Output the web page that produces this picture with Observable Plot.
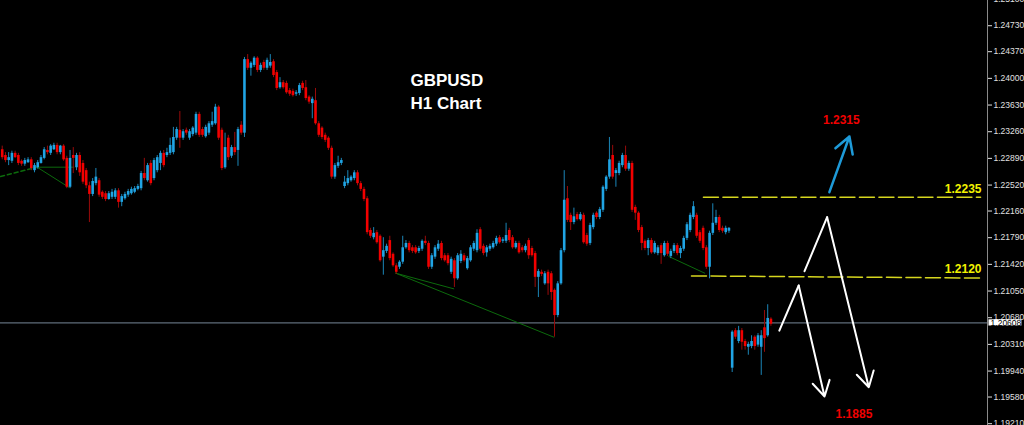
<!DOCTYPE html>
<html><head><meta charset="utf-8">
<style>html,body{margin:0;padding:0;background:#000;overflow:hidden}#chart svg{display:block}</style>
<script src="https://cdn.jsdelivr.net/npm/d3@7"></script>
<script src="https://cdn.jsdelivr.net/npm/@observablehq/plot@0.6"></script>
</head><body><div id="chart"></div>
<script>
// GBPUSD H1 candles (index 0..238), prices
const opens = [
1.2301,1.2293,1.2286,1.2285,1.2296,1.2293,1.2285,1.2281,1.2283,1.2287,
1.2272,1.2276,1.2282,1.2289,1.2300,1.2296,1.2301,1.2307,1.2297,1.2306,
1.2289,1.2249,1.2293,1.2276,1.2293,1.2282,1.2272,1.2251,1.2239,1.2254,
1.2258,1.2242,1.2240,1.2232,1.2235,1.2235,1.2244,1.2228,1.2233,1.2238,
1.2240,1.2242,1.2246,1.2247,1.2268,1.2258,1.2282,1.2261,1.2272,1.2282,
1.2296,1.2293,1.2296,1.2297,1.2317,1.2328,1.2317,1.2328,1.2317,1.2322,
1.2324,1.2350,1.2329,1.2319,1.2324,1.2335,1.2337,1.2360,1.2328,1.2276,
1.2317,1.2292,1.2304,1.2300,1.2335,1.2324,1.2426,1.2414,1.2418,1.2428,
1.2411,1.2422,1.2414,1.2417,1.2423,1.2408,1.2387,1.2394,1.2393,1.2383,
1.2382,1.2378,1.2379,1.2393,1.2387,1.2374,1.2365,1.2369,1.2337,1.2331,
1.2321,1.2317,1.2303,1.2263,1.2278,1.2282,1.2250,1.2254,1.2258,1.2261,
1.2269,1.2254,1.2246,1.2233,1.2189,1.2179,1.2186,1.2181,1.2152,1.2160,
1.2175,1.2156,1.2140,1.2138,1.2145,1.2165,1.2171,1.2165,1.2165,1.2160,
1.2163,1.2174,1.2171,1.2138,1.2152,1.2163,1.2171,1.2154,1.2154,1.2131,
1.2147,1.2122,1.2146,1.2154,1.2136,1.2147,1.2163,1.2161,1.2190,1.2167,
1.2158,1.2163,1.2165,1.2170,1.2179,1.2174,1.2174,1.2189,1.2179,1.2165,
1.2171,1.2165,1.2161,1.2175,1.2164,1.2157,1.2124,1.2131,1.2115,1.2131,
1.2129,1.2106,1.2071,1.2115,1.2161,1.2233,1.2210,1.2200,1.2211,1.2204,
1.2210,1.2182,1.2171,1.2193,1.2213,1.2207,1.2217,1.2246,1.2263,1.2293,
1.2268,1.2268,1.2279,1.2293,1.2274,1.2282,1.2221,1.2213,1.2193,1.2174,
1.2164,1.2175,1.2158,1.2157,1.2168,1.2154,1.2171,1.2153,1.2160,1.2168,
1.2157,1.2163,1.2178,1.2189,1.2207,1.2210,1.2186,1.2192,1.2165,1.2138,
1.2185,1.2199,1.2207,1.2192,1.2186,1.2188,1.1998,1.2050,1.2035,1.2050,
1.2035,1.2027,1.2028,1.2041,1.2030,1.2027,1.2054,1.2043,1.2066];
const highs = [
1.2306,1.2297,1.2297,1.2299,1.2299,1.2296,1.2287,1.2289,1.2290,1.2290,
1.2282,1.2286,1.2293,1.2304,1.2306,1.2308,1.2310,1.2310,1.2307,1.2308,
1.2292,1.2300,1.2304,1.2296,1.2297,1.2286,1.2275,1.2256,1.2261,1.2275,
1.2261,1.2244,1.2243,1.2243,1.2246,1.2247,1.2247,1.2239,1.2242,1.2246,
1.2249,1.2250,1.2253,1.2271,1.2289,1.2282,1.2286,1.2289,1.2293,1.2299,
1.2300,1.2303,1.2317,1.2332,1.2332,1.2354,1.2329,1.2331,1.2329,1.2333,
1.2353,1.2353,1.2332,1.2335,1.2340,1.2353,1.2364,1.2362,1.2331,1.2324,
1.2321,1.2307,1.2325,1.2332,1.2340,1.2429,1.2433,1.2423,1.2430,1.2430,
1.2421,1.2425,1.2428,1.2433,1.2426,1.2411,1.2401,1.2397,1.2396,1.2386,
1.2385,1.2383,1.2393,1.2396,1.2397,1.2376,1.2374,1.2386,1.2340,1.2333,
1.2324,1.2319,1.2306,1.2282,1.2292,1.2289,1.2264,1.2272,1.2265,1.2272,
1.2272,1.2257,1.2249,1.2236,1.2192,1.2193,1.2189,1.2183,1.2179,1.2170,
1.2181,1.2158,1.2143,1.2147,1.2181,1.2175,1.2174,1.2168,1.2168,1.2167,
1.2176,1.2181,1.2174,1.2157,1.2168,1.2175,1.2174,1.2157,1.2157,1.2152,
1.2150,1.2157,1.2161,1.2157,1.2153,1.2168,1.2174,1.2190,1.2193,1.2170,
1.2168,1.2170,1.2174,1.2181,1.2182,1.2179,1.2199,1.2192,1.2182,1.2174,
1.2174,1.2168,1.2170,1.2178,1.2167,1.2160,1.2135,1.2134,1.2132,1.2134,
1.2132,1.2108,1.2118,1.2164,1.2272,1.2250,1.2213,1.2220,1.2214,1.2214,
1.2213,1.2185,1.2199,1.2213,1.2215,1.2221,1.2251,1.2265,1.2318,1.2307,
1.2275,1.2285,1.2296,1.2306,1.2285,1.2285,1.2224,1.2215,1.2196,1.2176,
1.2178,1.2178,1.2174,1.2168,1.2171,1.2174,1.2174,1.2163,1.2171,1.2171,
1.2167,1.2181,1.2200,1.2213,1.2229,1.2213,1.2189,1.2195,1.2168,1.2188,
1.2226,1.2217,1.2210,1.2195,1.2195,1.2193,1.2050,1.2053,1.2056,1.2053,
1.2038,1.2034,1.2043,1.2043,1.2046,1.2050,1.2078,1.2086,1.2068];
const lows = [
1.2287,1.2283,1.2279,1.2282,1.2289,1.2279,1.2278,1.2278,1.2282,1.2272,
1.2269,1.2274,1.2281,1.2287,1.2294,1.2293,1.2300,1.2294,1.2294,1.2285,
1.2247,1.2247,1.2268,1.2272,1.2264,1.2253,1.2247,1.2200,1.2236,1.2251,
1.2235,1.2232,1.2229,1.2231,1.2232,1.2232,1.2220,1.2222,1.2231,1.2235,
1.2238,1.2240,1.2244,1.2244,1.2258,1.2256,1.2251,1.2258,1.2269,1.2272,
1.2276,1.2290,1.2293,1.2294,1.2314,1.2303,1.2314,1.2321,1.2314,1.2319,
1.2321,1.2318,1.2318,1.2317,1.2321,1.2332,1.2335,1.2314,1.2272,1.2274,
1.2286,1.2289,1.2293,1.2278,1.2321,1.2318,1.2411,1.2403,1.2415,1.2408,
1.2408,1.2411,1.2411,1.2414,1.2401,1.2383,1.2385,1.2385,1.2378,1.2375,
1.2374,1.2375,1.2376,1.2383,1.2369,1.2364,1.2344,1.2335,1.2318,1.2315,
1.2311,1.2300,1.2260,1.2260,1.2275,1.2279,1.2247,1.2251,1.2256,1.2258,
1.2251,1.2243,1.2229,1.2183,1.2178,1.2176,1.2170,1.2145,1.2127,1.2157,
1.2147,1.2138,1.2128,1.2135,1.2142,1.2163,1.2158,1.2157,1.2156,1.2157,
1.2160,1.2168,1.2135,1.2135,1.2149,1.2160,1.2147,1.2145,1.2140,1.2128,
1.2110,1.2120,1.2143,1.2145,1.2134,1.2145,1.2160,1.2158,1.2160,1.2154,
1.2152,1.2160,1.2163,1.2167,1.2170,1.2171,1.2171,1.2172,1.2163,1.2163,
1.2156,1.2158,1.2158,1.2149,1.2152,1.2110,1.2096,1.2125,1.2113,1.2099,
1.2092,1.2041,1.2068,1.2113,1.2158,1.2200,1.2189,1.2197,1.2202,1.2202,
1.2170,1.2167,1.2168,1.2190,1.2204,1.2204,1.2214,1.2243,1.2260,1.2260,
1.2249,1.2265,1.2276,1.2271,1.2271,1.2214,1.2203,1.2186,1.2161,1.2161,
1.2154,1.2156,1.2156,1.2154,1.2142,1.2152,1.2153,1.2150,1.2157,1.2154,
1.2150,1.2160,1.2175,1.2186,1.2204,1.2178,1.2171,1.2161,1.2135,1.2122,
1.2182,1.2196,1.2186,1.2185,1.2183,1.2185,1.1992,1.2038,1.2032,1.2023,
1.2023,1.2016,1.2025,1.2023,1.2027,1.1988,1.2020,1.2041,1.2056];
const closes = [
1.2290,1.2286,1.2290,1.2296,1.2290,1.2282,1.2281,1.2286,1.2287,1.2275,
1.2279,1.2283,1.2290,1.2301,1.2297,1.2306,1.2307,1.2297,1.2306,1.2287,
1.2249,1.2289,1.2289,1.2293,1.2269,1.2256,1.2251,1.2239,1.2257,1.2263,
1.2238,1.2235,1.2232,1.2240,1.2242,1.2244,1.2228,1.2236,1.2239,1.2243,
1.2246,1.2247,1.2250,1.2268,1.2261,1.2279,1.2254,1.2286,1.2290,1.2296,
1.2279,1.2297,1.2307,1.2318,1.2329,1.2317,1.2326,1.2324,1.2326,1.2331,
1.2350,1.2321,1.2321,1.2332,1.2337,1.2340,1.2360,1.2317,1.2275,1.2304,
1.2290,1.2304,1.2297,1.2329,1.2324,1.2426,1.2414,1.2421,1.2428,1.2411,
1.2418,1.2414,1.2425,1.2422,1.2404,1.2386,1.2394,1.2387,1.2380,1.2378,
1.2376,1.2380,1.2390,1.2386,1.2372,1.2367,1.2371,1.2337,1.2321,1.2318,
1.2314,1.2303,1.2263,1.2279,1.2283,1.2286,1.2256,1.2261,1.2263,1.2269,
1.2254,1.2246,1.2232,1.2186,1.2181,1.2185,1.2172,1.2147,1.2161,1.2167,
1.2150,1.2140,1.2131,1.2145,1.2165,1.2171,1.2161,1.2160,1.2158,1.2164,
1.2174,1.2171,1.2138,1.2154,1.2165,1.2170,1.2150,1.2147,1.2143,1.2149,
1.2122,1.2154,1.2156,1.2147,1.2150,1.2165,1.2171,1.2185,1.2163,1.2157,
1.2165,1.2167,1.2171,1.2178,1.2172,1.2176,1.2182,1.2175,1.2165,1.2171,
1.2158,1.2161,1.2167,1.2154,1.2154,1.2124,1.2132,1.2128,1.2129,1.2115,
1.2103,1.2071,1.2115,1.2161,1.2231,1.2203,1.2200,1.2208,1.2204,1.2211,
1.2172,1.2170,1.2196,1.2210,1.2207,1.2218,1.2249,1.2263,1.2287,1.2263,
1.2272,1.2282,1.2293,1.2274,1.2282,1.2217,1.2213,1.2189,1.2171,1.2164,
1.2175,1.2158,1.2171,1.2165,1.2157,1.2171,1.2156,1.2160,1.2168,1.2157,
1.2164,1.2178,1.2197,1.2210,1.2222,1.2181,1.2174,1.2164,1.2138,1.2185,
1.2199,1.2207,1.2189,1.2188,1.2192,1.2192,1.2048,1.2041,1.2050,1.2034,
1.2028,1.2031,1.2035,1.2028,1.2043,1.2043,1.2039,1.2067,1.2059];

// price axis tick labels
const priceTicks = [1.19210,1.19580,1.19940,1.20310,1.20680,1.21050,1.21420,1.21790,
  1.22160,1.22520,1.22890,1.23260,1.23630,1.24000,1.24370,1.24730,1.25100];
const bidPrice = 1.20608;

// drawn objects (bar index, price)
const greenTrendlines = [
  {dashed: true,  pts: [[-0.5, 1.22639], [10.8, 1.22768]]},
  {dashed: false, pts: [[10.8, 1.22768], [22.2, 1.22768]]},
  {dashed: false, pts: [[10.8, 1.22768], [20.6, 1.22490]]},
  {dashed: false, pts: [[121.8, 1.21298], [139.8, 1.21081]]},
  {dashed: false, pts: [[121.8, 1.21298], [170.8, 1.20410]]},
  {dashed: false, pts: [[206.4, 1.21529], [217.5, 1.21298]]}
];
const levelLines = [
  [[217.1, 1.2235], [302.9, 1.2235]],
  [[213.4, 1.2126], [302.9, 1.2123]]
];
const levelLabels = [
  {text: "1.2235", i: 303.2, p: 1.22459},
  {text: "1.2120", i: 303.2, p: 1.21356}
];
const targetLabels = [
  {text: "1.2315", i: 259.8, p: 1.23416},
  {text: "1.1885", i: 263.7, p: 1.19345}
];
const titleLines = [
  {text: "GBPUSD", i: 126.4, p: 1.23970},
  {text: "H1 Chart", i: 126.4, p: 1.23651}
];
const whitePaths = [
  [[240.6, 1.20500], [246.6, 1.21127], [254.6, 1.19588]],
  [[248.4, 1.21325], [255.4, 1.22074], [268.3, 1.19716]]
];
const blueArrow = [{x1: 256.1, y1: 1.22421, x2: 262.3, y2: 1.23194}];

const xDomain = [-0.53, 305.05];
const yDomain = [1.19185, 1.25080];

const candles = opens.map((o, i) => ({i, o, h: highs[i], l: lows[i], c: closes[i]}));
const up = candles.filter(d => d.c >= d.o);
const down = candles.filter(d => d.c < d.o);

const whiteHeads = whitePaths.map(p => ({x1: p[1][0], y1: p[1][1], x2: p[2][0], y2: p[2][1]}));

const chart = Plot.plot({
  width: 1024, height: 425,
  marginLeft: 0, marginRight: 37, marginTop: 0, marginBottom: 0,
  style: {background: "#000", color: "#d0d0d0", fontFamily: "'Liberation Sans', Arial, sans-serif", overflow: "visible"},
  x: {domain: xDomain, axis: null},
  y: {domain: yDomain, axis: null},
  marks: [
    Plot.ruleY([bidPrice], {stroke: "#778899", strokeWidth: 1}),
    ...greenTrendlines.map(t => Plot.line(t.pts, {x: d => d[0], y: d => d[1], stroke: "#0c6a0c", strokeWidth: t.dashed ? 1.5 : 1, strokeDasharray: t.dashed ? "4,3" : null})),
    Plot.ruleX(down, {x: "i", y1: "l", y2: "h", stroke: "#9a0a0a", strokeWidth: 1}),
    Plot.ruleX(up, {x: "i", y1: "l", y2: "h", stroke: "#1b86b8", strokeWidth: 1}),
    Plot.ruleX(down, {x: "i", y1: "o", y2: "c", stroke: "#f20000", strokeWidth: 2.6}),
    Plot.ruleX(up, {x: "i", y1: "o", y2: "c", stroke: "#20a4e4", strokeWidth: 2.6}),
    ...levelLines.map(l => Plot.line(l, {x: d => d[0], y: d => d[1], stroke: "#d6d61e", strokeWidth: 1.5, strokeDasharray: "15,4.5"})),
    Plot.text(levelLabels, {x: "i", y: "p", text: "text", textAnchor: "end", fill: "#f2f200", fontSize: 12, fontWeight: "bold"}),
    Plot.text(targetLabels, {x: "i", y: "p", text: "text", textAnchor: "middle", fill: "#f00000", fontSize: 12, fontWeight: "bold"}),
    Plot.text(titleLines, {x: "i", y: "p", text: "text", textAnchor: "start", fill: "#ffffff", fontSize: 17, fontWeight: "bold"}),
    ...whitePaths.map(p => Plot.line(p.slice(0, 2), {x: d => d[0], y: d => d[1], stroke: "#fff", strokeWidth: 2})),
    Plot.arrow(whiteHeads, {x1: "x1", y1: "y1", x2: "x2", y2: "y2", stroke: "#fff", strokeWidth: 2, headLength: 13}),
    Plot.arrow(blueArrow, {x1: "x1", y1: "y1", x2: "x2", y2: "y2", stroke: "#1e9ad8", strokeWidth: 2.5, headLength: 11}),
    Plot.ruleX([xDomain[1]], {stroke: "#8a8a8a", strokeWidth: 1}),
    Plot.axisY(priceTicks, {anchor: "right", tickSize: 4, tickPadding: 2, tickFormat: d => d.toFixed(5), fontSize: 8.5, color: "#e0e0e0", label: null}),
    Plot.rect([bidPrice], {x1: 305.5, x2: 315.7, y1: d => d - 0.00043, y2: d => d + 0.00043, fill: "#ffffff"}),
    Plot.text([bidPrice], {x: 306.0, y: d => d, text: d => d.toFixed(5), textAnchor: "start", fill: "#000", fontSize: 8.5})
  ]
});
document.getElementById("chart").appendChild(chart);
</script>
</body></html>
